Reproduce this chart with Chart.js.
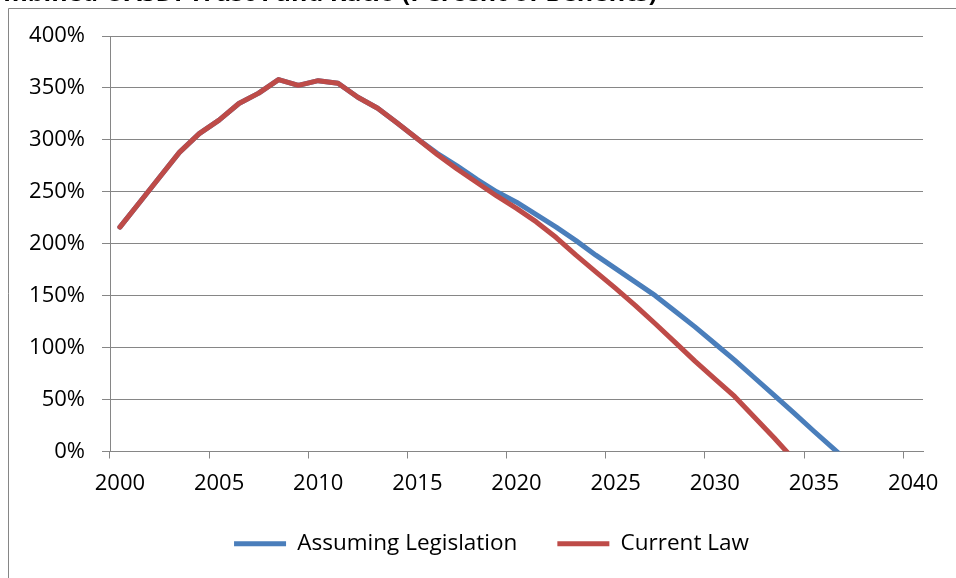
<!DOCTYPE html>
<html>
<head>
<meta charset="utf-8">
<title>Trust Fund Ratio</title>
<script src="https://cdn.jsdelivr.net/npm/chart.js@4"></script>
<style>
  body { margin: 0; background: #fff; }
  canvas { display: block; }
</style>
</head>
<body>
<canvas id="chart" width="956" height="578"></canvas>
<script>
//
// data

var years = ['2000','2001','2002','2003','2004','2005','2006','2007','2008','2009',
             '2010','2011','2012','2013','2014','2015','2016','2017','2018','2019',
             '2020','2021','2022','2023','2024','2025','2026','2027','2028','2029',
             '2030','2031','2032','2033','2034','2035','2036','2037','2038','2039','2040'];

// percent of benefits; last value is past the 0% floor and gets clipped like the original
var assumingLegislation = [216, 240, 264, 288, 306, 319, 335, 345, 358, 352.5,
                           357, 354.5, 341, 330.5, 316, 301, 287, 275, 262, 250,
                           240, 228, 216, 203, 189, 176, 163, 150, 135, 120,
                           104, 88, 71, 54, 37, 19.5, 2.5, -14.5, null, null, null];

var currentLaw = [216, 240, 264, 288, 306, 319, 335, 345, 358, 352.5,
                  357, 354.5, 341, 330.5, 316, 301, 286, 272, 259, 246,
                  234, 221, 206, 189, 173, 157, 140.5, 123, 105, 87,
                  70, 53, 33, 13, -8, null, null, null, null, null, null];

var seriesNames = ['Assuming Legislation', 'Current Law'];
var yTicks = [0, 50, 100, 150, 200, 250, 300, 350, 400];

var FONT = "'Open Sans', sans-serif";
var GRID = '#868686';

// outer frame + title, both cut by the picture edge
var framePlugin = {
  id: 'frame',
  afterLayout: function(chart) {
    // legend sits a bit right of centre in the original
    chart.legend.left += 30;
    chart.legend.right += 30;
  },
  afterDraw: function(chart) {
    var ctx = chart.ctx;
    ctx.save();
    ctx.strokeStyle = GRID;
    ctx.lineWidth = 1;
    ctx.beginPath();
    ctx.moveTo(8.5, 578);
    ctx.lineTo(8.5, 8.5);
    ctx.lineTo(956, 8.5);
    ctx.stroke();

    ctx.fillStyle = '#000';
    ctx.font = 'bold 25px ' + FONT;
    ctx.textAlign = 'right';
    ctx.textBaseline = 'alphabetic';
    ctx.fillText('Combined OASDI Trust Fund Ratio (Percent of Benefits)', 657, 1);
    ctx.restore();
  }
};

function lineSet(name, values, colour) {
  return {
    label: name,
    data: values,
    borderColor: colour,
    backgroundColor: colour,
    borderWidth: 5,
    borderCapStyle: 'round',
    borderJoinStyle: 'round',
    pointRadius: 0,
    tension: 0,
    clip: 0
  };
}

var ctx = document.getElementById('chart').getContext('2d');
var myChart = new Chart(ctx, {
  type: 'line',
  data: {
    labels: years,
    // red first so it is drawn on top, legend reversed back
    datasets: [
      lineSet(seriesNames[1], currentLaw, '#be4b48'),
      lineSet(seriesNames[0], assumingLegislation, '#4a7ebb')
    ]
  },
  options: {
    responsive: false,
    animation: false,
    layout: { padding: { top: 36, right: 33, bottom: 13, left: 0 } },
    plugins: {
      tooltip: { enabled: false },
      legend: {
        position: 'bottom',
        reverse: true,
        labels: {
          usePointStyle: true,
          pointStyle: 'line',
          pointStyleWidth: 52,
          padding: 40,
          color: '#000',
          font: { family: FONT, size: 22.5 }
        }
      }
    },
    scales: {
      x: {
        offset: true,
        grid: {
          offset: true,
          drawOnChartArea: false,
          tickLength: 7,
          tickColor: function(c) { return c.index % 5 === 0 ? GRID : 'rgba(0,0,0,0)'; },
          color: function(c) { return c.index % 5 === 0 ? GRID : 'rgba(0,0,0,0)'; }
        },
        border: { display: true, color: GRID, width: 1 },
        ticks: {
          autoSkip: false,
          maxRotation: 0,
          minRotation: 0,
          padding: 12,
          color: '#000',
          font: { family: FONT, size: 22 },
          callback: function(val, i) { return i % 5 === 0 ? this.getLabelForValue(val) : ''; }
        },
        afterFit: function(scale) { scale.height = 41; }
      },
      y: {
        min: 0,
        max: 400,
        afterBuildTicks: function(scale) {
          scale.ticks = yTicks.map(function(v) { return { value: v }; });
        },
        grid: { color: GRID, lineWidth: 1, tickLength: 8, tickColor: GRID },
        border: { display: true, color: GRID, width: 1 },
        ticks: {
          padding: 17,
          color: '#000',
          font: { family: FONT, size: 22 },
          callback: function(v) { return v + '%'; }
        },
        afterFit: function(scale) { scale.width = 110; }
      }
    }
  },
  plugins: [framePlugin]
});
</script>
</body>
</html>
